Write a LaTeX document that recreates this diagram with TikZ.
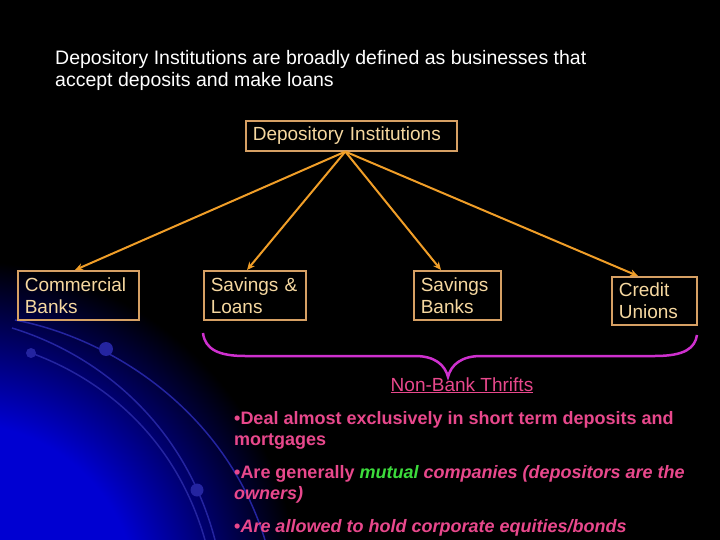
\documentclass[tikz,border=0pt]{standalone}
\usepackage{fontspec}
\setmainfont{Liberation Sans}
\usetikzlibrary{arrows.meta}
\definecolor{boxline}{RGB}{214,160,100}
\definecolor{boxtext}{RGB}{246,216,160}
\definecolor{arrowc}{RGB}{240,158,40}
\definecolor{bracec}{RGB}{206,48,206}
\definecolor{pinktext}{RGB}{232,72,140}
\definecolor{mutualc}{RGB}{60,220,60}
\definecolor{glow}{RGB}{0,0,210}
\definecolor{arcc}{RGB}{36,36,160}
\pgfdeclareradialshading{cornerglow}{\pgfpoint{0bp}{0bp}}{color(0bp)=(glow); color(13bp)=(glow); color(25bp)=(black); color(50bp)=(black)}
\begin{document}
\begin{tikzpicture}[x=1pt,y=-1pt,
	inst/.style={draw=boxline,line width=1.6pt,text=boxtext,align=left,anchor=north west,inner xsep=7pt,inner ysep=0pt,font=\fontsize{19}{22}\selectfont},
	branch/.style={draw=arrowc,line width=2pt,-{Stealth[length=8pt,width=7pt]}},
	bullet/.style={text=pinktext,anchor=base west,align=left,inner sep=0pt,font=\bfseries\fontsize{18}{21}\selectfont}]
			\useasboundingbox (0,0) rectangle (720,540);
			\fill[black] (0,0) rectangle (720,540);
			\begin{scope}
				\clip (0,0) rectangle (720,540);
				\shade[shading=cornerglow] (-40,600) circle (340);
			\end{scope}
			\draw[arcc,line width=1.5pt] (15,320) .. controls (110,338) and (225,410) .. (265,540);
			\draw[arcc,line width=1.5pt] (12,328) .. controls (100,355) and (185,425) .. (215,540);
			\draw[arcc,line width=1.5pt] (31,353) .. controls (100,378) and (175,435) .. (205,540);
			\fill[arcc] (106,349) circle (7);
			\fill[arcc] (31,353) circle (5);
			\fill[arcc] (197,490) circle (6.5);
			\node[text=white,anchor=base west,align=left,inner sep=0pt,font=\fontsize{19.5}{22}\selectfont] (intro) at (55,87) {Depository Institutions are broadly defined as businesses that\\accept deposits and make loans};
			\node[inst,text width=197pt,minimum height=30pt] (dep) at (245,120) {Depository Institutions};
			\node[inst,text width=107pt,minimum height=49pt] (commercial) at (17,270) {Commercial\\Banks};
			\node[inst,text width=88pt,minimum height=49pt] (sl) at (203,270) {Savings \&\\Loans};
			\node[inst,text width=73pt,minimum height=49pt] (sb) at (413,270) {Savings\\Banks};
			\node[inst,text width=71pt,minimum height=48pt] (cu) at (611,276) {Credit\\Unions};
			\coordinate (hub) at ([xshift=-6pt]dep.south);
			\draw[branch] (hub) -- ([xshift=58pt]commercial.north west);
			\draw[branch] (hub) -- ([xshift=44pt]sl.north west);
			\draw[branch] (hub) -- ([xshift=28pt]sb.north west);
			\draw[branch] (hub) -- ([xshift=27pt]cu.north west);
			\draw[bracec,line width=2.5pt] (203,333) .. controls (205,350) and (220,356) .. (245,356) -- (415,356) .. controls (435,356) and (445,365) .. (448,377) .. controls (451,365) and (461,356) .. (481,356) -- (655,356) .. controls (685,356) and (695,348) .. (697,335);
			\node[text=pinktext,anchor=base,inner sep=0pt,font=\fontsize{19}{22}\selectfont] (thrifts) at (462,391) {\underline{Non-Bank Thrifts}};
			\node[bullet] (deal) at (234,445) {•Deal almost exclusively in short term deposits and\\mortgages};
			\node[bullet] (mutual) at (234,499) {•Are generally \textit{\textcolor{mutualc}{mutual} companies (depositors are the}\\\textit{owners)}};
			\node[bullet] (equity) at (234,532) {•\textit{Are allowed to hold corporate equities/bonds}};
		\end{tikzpicture}
\end{document}
